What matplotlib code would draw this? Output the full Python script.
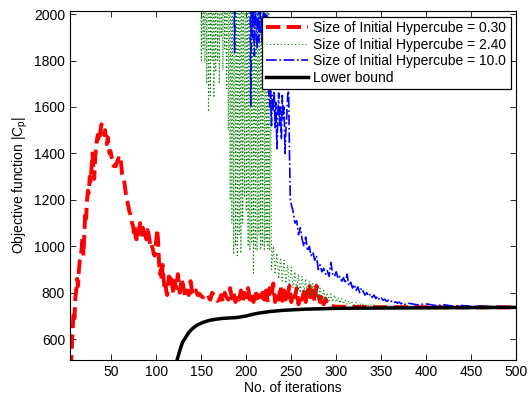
import numpy as np
import matplotlib
matplotlib.use("Agg")
import matplotlib.pyplot as plt

plt.rcParams['font.family'] = ['Liberation Sans', 'DejaVu Sans']

# ---------------- data ----------------
red_x = list(range(5, 120)) + list(range(120, 292, 2)) + [292, 296, 300, 320, 350, 400, 450, 500]
red_y = [470, 560, 640, 720, 690, 780, 810, 860, 830, 900,
         940, 960, 990, 1040, 960, 1060, 1150, 1120, 1200, 1240,
         1230, 1300, 1280, 1340, 1400, 1330, 1290, 1380, 1420, 1460,
         1480, 1450, 1470, 1500, 1525, 1515, 1500, 1480, 1500, 1460,
         1440, 1470, 1430, 1400, 1410, 1390, 1370, 1350, 1345, 1350,
         1345, 1360, 1370, 1380, 1375, 1385, 1350, 1310, 1300, 1290,
         1260, 1230, 1206, 1190, 1170, 1150, 1140, 1120, 1100, 1090,
         1060, 1090, 1040, 1030, 1060, 1050, 1080, 1100, 1070, 1050,
         1080, 1040, 1060, 1050, 1030, 1070, 1060, 1040, 1010, 1020,
         1000, 990, 970, 960, 990, 1030, 1075, 1020, 930, 880,
         900, 850, 920, 860, 830, 850, 810, 790, 830, 870,
         860, 880, 850, 820, 800]
red_y += [850, 820, 880, 800, 860, 830, 780, 810, 790, 850,
          800, 790, 810, 790, 795, 785, 780, 790, 775, 780,
          770, 800, 790, 775, 765, 770, 790, 760, 800, 780,
          770, 820, 775, 800, 760, 790, 770, 810, 765, 800,
          780, 820, 770, 795, 760, 810, 775, 790, 760, 800,
          770, 810, 760, 820, 780, 840, 760, 800, 770, 830,
          765, 810, 755, 790, 830, 760, 800, 780, 820, 750,
          790, 770, 805, 760, 800, 840, 770, 810, 760, 830,
          790, 760, 790, 750, 775, 750]
red_y += [745, 742, 740, 739, 738, 738, 737, 737]

green_x = list(range(140, 228)) + list(range(228, 352, 2)) + [360, 380, 400, 450, 500]
green_y = [2600, 2500, 2650, 2400, 2550, 2450,
           2600, 2400, 2500, 2450,
           1800, 2500, 1850, 2400, 1790, 2600, 1700, 2450, 1580, 2500,
           1650, 2400, 1800, 2550, 1640, 2450, 1750, 2600, 1800, 2400,
           1700, 2500, 1900, 2450, 1760, 2550, 1850, 2400, 1680, 2500,
           1500, 2450, 1200, 2600, 1100, 2400, 965, 2500, 1000, 2450,
           960, 2550, 1050, 2400, 970, 2500, 1100, 2450, 1210, 2600,
           1150, 2400, 1000, 2500, 980, 2450, 1020, 2550, 885, 2400,
           990, 2500, 980, 2450, 1050, 2600, 985, 2400, 1000, 2500,
           980, 2450, 1020, 2300, 990, 2100, 980, 1900]
green_y += [900, 1000, 880, 970, 860, 950, 850, 940, 840, 920,
            830, 910, 820, 890, 810, 880, 800, 870, 800, 860,
            790, 850, 785, 840, 780, 830, 775, 820, 770, 810,
            770, 800, 765, 795, 760, 790, 760, 780, 755, 775,
            752, 770, 750, 765, 750, 760, 748, 758, 746, 755,
            745, 752, 744, 750, 743, 748, 742, 747, 741, 745,
            740, 744]
green_y += [741, 740, 739, 738, 737]

blue_x = list(range(180, 251)) + list(range(252, 378, 2)) + [380, 390, 400, 410, 420, 430, 440, 450, 460, 470, 480, 490, 500]
blue_y = [2400, 2300, 2500, 2350, 2450, 2300, 2200, 1835, 2300, 2400,
          2250, 2350, 2200, 2400, 2300, 2150, 2350, 2250, 2400, 2200,
          2300, 2150, 2250, 2100, 2200,
          1605, 2150, 1900, 2080, 1820, 2050, 1950, 1850, 2100, 1880,
          2050, 1920, 1980, 1860, 2060, 1930, 2000, 1890, 2040, 1750,
          1660, 1600, 1670, 1520, 1650, 1580, 1670, 1510, 1620, 1420,
          1560, 1660, 1520, 1600, 1460, 1650, 1550, 1600, 1400, 1500,
          1560, 1650, 1670, 1400, 1190, 1180]
blue_y += [1150, 1100, 1110, 1050, 1080, 1030, 1000, 1040, 980, 1000,
           960, 975, 940, 960, 900, 920, 890, 905, 880, 895,
           870, 930, 880, 870, 890, 860, 870, 850, 865, 840,
           880, 830, 845, 820, 835, 810, 825, 800, 820, 805,
           790, 800, 785, 795, 780, 790, 775, 785, 770, 778,
           768, 772, 762, 768, 760, 765, 757, 761, 755, 760,
           752, 758, 750]
blue_y += [755, 748, 752, 745, 748, 742, 745, 741, 743, 740, 741, 739, 739]

lb_x = [121, 123, 126, 129, 133, 136, 140, 145, 151, 158, 166, 175, 189, 200,
        207, 215, 226, 240, 264, 301, 340, 400, 450, 500]
lb_y = [480, 510, 550, 586, 610, 629, 645, 660, 671, 680, 686, 690, 693, 700,
        707, 713, 719, 724, 729, 733, 734, 735, 736, 737]

labels = ['Size of Initial Hypercube = 0.30',
          'Size of Initial Hypercube = 2.40',
          'Size of Initial Hypercube = 10.0',
          'Lower bound']
x_ticks = [50, 100, 150, 200, 250, 300, 350, 400, 450, 500]
y_ticks = [600, 800, 1000, 1200, 1400, 1600, 1800, 2000]

# ---------------- plot ----------------
fig = plt.figure(figsize=(5.3, 3.95), dpi=100)
ax = fig.add_axes([0.132, 0.089, 0.842, 0.883])

ax.plot(red_x, red_y, color='red', linestyle='--', linewidth=2.8, label=labels[0])
ax.plot(green_x, green_y, color=(0, 0.5, 0), linestyle=(0, (1, 2.2)), linewidth=0.8, label=labels[1])
ax.plot(blue_x, blue_y, color='blue', linestyle='-.', linewidth=1.2, label=labels[2])
ax.plot(lb_x, lb_y, color='black', linestyle='-', linewidth=2.5, label=labels[3])

ax.set_xlim(4, 500)
ax.set_ylim(511, 2013)
ax.set_xticks(x_ticks)
ax.set_yticks(y_ticks)
ax.tick_params(direction='in', top=True, right=True, length=4, width=0.6, labelsize=10)
for s in ax.spines.values():
    s.set_linewidth(0.8)

ax.set_xlabel('No. of iterations', fontsize=10, labelpad=2)
ax.set_ylabel(r'Objective function |C$_\mathregular{p}$|', fontsize=10, labelpad=3)

leg = ax.legend(loc='upper right', fontsize=10, handlelength=3.0, labelspacing=0.2,
                borderpad=0.3, handletextpad=0.4, borderaxespad=0.4,
                fancybox=False, framealpha=1, edgecolor='black')
leg.get_frame().set_linewidth(0.9)

fig.savefig('out.png', dpi=100)
